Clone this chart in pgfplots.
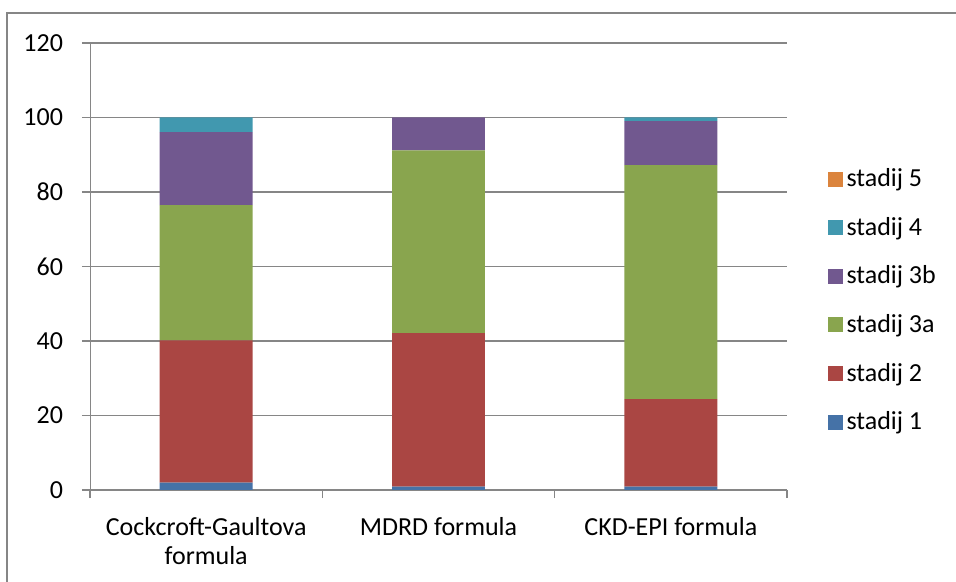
\documentclass[border=0pt]{standalone}
\usepackage{pgfplots}
\usepackage{pgfplotstable}
\usepackage{fontspec}
\setmainfont{Carlito}
\pgfplotsset{compat=1.18}

\definecolor{sOne}{HTML}{4572A7}
\definecolor{sTwo}{HTML}{AA4643}
\definecolor{sThreeA}{HTML}{89A54E}
\definecolor{sThreeB}{HTML}{71588F}
\definecolor{sFour}{HTML}{4198AF}
\definecolor{sFive}{HTML}{DB843D}
\definecolor{axgray}{HTML}{868686}

% share of patients per CKD stage (%), per formula
\pgfplotstableread{
x  s1   s2   s3a  s3b  s4   s5
0  2.0  38.2 36.3 19.6 3.9  0
1  0.9  41.2 49.1 8.8  0    0
2  0.9  23.5 62.8 11.8 1.0  0
}\stages

\begin{document}
\begin{tikzpicture}
% picture extent and chart area frame (only its top and left edges fall inside)
\useasboundingbox (-45pt,-46pt) rectangle (433pt,245pt);
\draw[axgray, line width=0.6pt] (-41.5pt,-46pt) -- (-41.5pt,238.5pt) -- (433pt,238.5pt);
\begin{axis}[
  at={(0pt,0pt)}, anchor=south west,
  scale only axis,
  width=348.5pt, height=223.5pt,
  ybar stacked,
  bar width=0.4,
  xmin=-0.5, xmax=2.5,
  ymin=0, ymax=120,
  ytick distance=20,
  xtick={-0.5,0.5,1.5,2.5},
  xticklabels={},
  extra x ticks={0,1,2},
  extra x tick labels={{Cockcroft-Gaultova\\formula},{MDRD formula},{CKD-EPI formula}},
  extra x tick style={grid=none, major tick length=0pt},
  xticklabel style={align=center, font=\fontsize{13}{14.5}\selectfont, yshift=-10pt},
  yticklabel style={font=\fontsize{13}{15}\selectfont, xshift=-6pt},
  /pgf/number format/assume math mode=true,
  axis x line*=bottom,
  axis y line*=left,
  axis line style={axgray, -},
  tick align=outside,
  major tick length=4pt,
  tick style={axgray, line width=0.6pt},
  ymajorgrids=true,
  grid style={axgray, line width=0.6pt},
  axis on top=false,
  reverse legend,
  legend cell align=left,
  legend style={at={(1.049,0.4235)}, anchor=west, draw=none,
    font=\fontsize{13}{15}\selectfont, row sep=9.75pt},
  legend image code/.code={\fill[#1] (0pt,-3.75pt) rectangle (7.5pt,3.75pt);},
]
\addplot[fill=sOne, draw=none] table[x=x, y=s1] {\stages};
\addplot[fill=sTwo, draw=none] table[x=x, y=s2] {\stages};
\addplot[fill=sThreeA, draw=none] table[x=x, y=s3a] {\stages};
\addplot[fill=sThreeB, draw=none] table[x=x, y=s3b] {\stages};
\addplot[fill=sFour, draw=none] table[x=x, y=s4] {\stages};
\addplot[fill=sFive, draw=none] table[x=x, y=s5] {\stages};
\legend{stadij 1,stadij 2,stadij 3a,stadij 3b,stadij 4,stadij 5}
\end{axis}
\end{tikzpicture}
\end{document}
